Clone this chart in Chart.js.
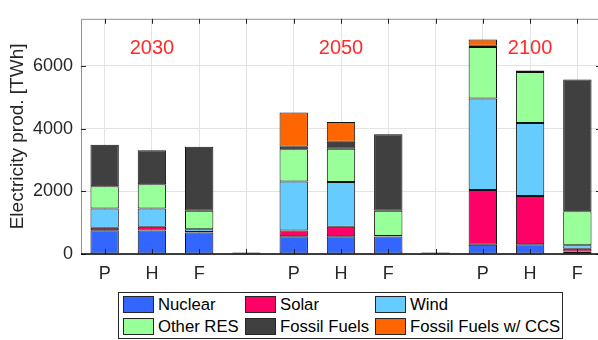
<!DOCTYPE html>
<html>
<head>
<meta charset="utf-8">
<script src="https://cdn.jsdelivr.net/npm/chart.js@4.4.1/dist/chart.umd.min.js"></script>
<style>
    body { margin: 0; overflow: hidden; background: #fff; font-family: "Liberation Sans", Arial, sans-serif; }
    #wrap { position: relative; width: 602px; height: 340px; }
    #legend { position: absolute; left: 118px; top: 292px; width: 443px; height: 45px; border: 1px solid #262626; background: #fff; }
    .item { position: absolute; height: 17px; font-size: 16.7px; line-height: 17px; color: #000; white-space: nowrap; }
    .swatch { display: inline-block; width: 29px; height: 15px; border: 1px solid #262626; vertical-align: top; margin-right: 4px; }
</style>
</head>
<body>
<div id="wrap">
    <canvas id="chart" width="602" height="340"></canvas>
    <div id="legend"></div>
</div>
<script>
// Категории: сценарии P/H/F по годам, пустые колонки - разделители
const categories = ['P', 'H', 'F', '', 'P', 'H', 'F', '', 'P', 'H', 'F'];
const yearLabels = ['2030', '2050', '2100'];
const yearCategory = [1, 5, 9];
const yTicks = [0, 2000, 4000, 6000];

// Производство электроэнергии, TWh
const nuclear    = [757, 750, 685, 0, 563, 563, 560, 0, 297, 307, 80];
const solar      = [83, 120, 20, 0, 184, 307, 5, 0, 1740, 1546, 90];
const wind       = [613, 583, 81, 0, 1566, 1423, 5, 0, 2918, 2323, 110];
const otherRes   = [707, 769, 596, 0, 1024, 1065, 812, 0, 1645, 1627, 1081];
const fossil     = [1320, 1084, 2036, 50, 83, 225, 2437, 50, 43, 51, 4207];
const fossilCcs  = [0, 0, 0, 0, 1093, 623, 6, 0, 194, 0, 0];

const seriesNames  = ['Nuclear', 'Solar', 'Wind', 'Other RES', 'Fossil Fuels', 'Fossil Fuels w/ CCS'];
const seriesColors = ['#3366ff', '#ff0066', '#66ccff', '#99ff99', '#404040', '#ff6600'];
const seriesData   = [nuclear, solar, wind, otherRes, fossil, fossilCcs];

const FONT = '"Liberation Sans", Arial, sans-serif';
const TEXT = '#262626';

// Рамка, внутренние засечки и подписи годов (как в MATLAB)
const matlabAxes = {
    id: 'matlabAxes',
    afterDatasetsDraw(chart) {
        const { ctx, chartArea: a, scales: { x, y } } = chart;
        ctx.save();

        ctx.strokeStyle = '#8f8f8f';
        ctx.lineWidth = 1;
        ctx.beginPath();
        ctx.moveTo(a.left + 0.5, a.bottom);
        ctx.lineTo(a.left + 0.5, a.top + 0.5);
        ctx.lineTo(a.right - 0.5, a.top + 0.5);
        ctx.lineTo(a.right - 0.5, a.bottom);
        ctx.stroke();

        ctx.strokeStyle = TEXT;
        ctx.beginPath();
        categories.forEach((c, i) => {
            const px = Math.round(x.getPixelForValue(i)) + 0.5;
            ctx.moveTo(px, a.bottom); ctx.lineTo(px, a.bottom - 5);
            ctx.moveTo(px, a.top); ctx.lineTo(px, a.top + 5);
        });
        yTicks.forEach(v => {
            const py = Math.round(y.getPixelForValue(v)) + 0.5;
            ctx.moveTo(a.left, py); ctx.lineTo(a.left + 5, py);
            ctx.moveTo(a.right, py); ctx.lineTo(a.right - 5, py);
        });
        ctx.stroke();

        // нулевая линия
        ctx.strokeStyle = '#000';
        ctx.lineWidth = 1.5;
        ctx.beginPath();
        const y0 = y.getPixelForValue(0);
        ctx.moveTo(a.left, y0);
        ctx.lineTo(a.right, y0);
        ctx.stroke();

        ctx.fillStyle = '#ff2b2b';
        ctx.font = '20px ' + FONT;
        ctx.textAlign = 'center';
        ctx.textBaseline = 'middle';
        yearLabels.forEach((t, i) => {
            ctx.fillText(t, x.getPixelForValue(yearCategory[i]), y.getPixelForValue(6550));
        });
        ctx.restore();
    }
};

const chart = new Chart(document.getElementById('chart'), {
    type: 'bar',
    data: {
        labels: categories,
        datasets: seriesData.map((d, i) => ({
            label: seriesNames[i],
            data: d,
            backgroundColor: seriesColors[i],
            borderColor: '#111',
            borderWidth: 1,
            borderSkipped: false,
            barPercentage: 0.6,
            categoryPercentage: 1
        }))
    },
    options: {
        responsive: false,
        animation: false,
        layout: { padding: { top: 9, right: 1, bottom: 58, left: 0 } },
        plugins: {
            legend: { display: false },
            tooltip: { enabled: false }
        },
        scales: {
            x: {
                stacked: true,
                grid: { offset: false, color: '#e3e3e3', drawTicks: false },
                border: { display: false },
                ticks: { color: TEXT, font: { size: 18, family: FONT }, padding: 9, autoSkip: false, maxRotation: 0 },
                afterFit(s) { s.height = 28; }
            },
            y: {
                stacked: true,
                min: 0,
                max: 7500,
                afterBuildTicks(s) { s.ticks = yTicks.map(v => ({ value: v })); },
                grid: { color: '#e3e3e3', drawTicks: false },
                border: { display: false },
                ticks: {
                    color: TEXT,
                    font: { size: 18, family: FONT },
                    padding: 8,
                    callback: value => String(value)
                },
                title: {
                    display: true,
                    text: 'Electricity prod. [TWh]',
                    color: TEXT,
                    font: { size: 19, family: FONT },
                    padding: { top: 6, bottom: 0 }
                },
                afterFit(s) { s.width = 81; }
            }
        }
    },
    plugins: [matlabAxes]
});

// Легенда в 3 колонки
const legend = document.getElementById('legend');
const colX = [4, 126, 256];
const rowY = [3, 25];
chart.data.datasets.forEach((ds, i) => {
    const item = document.createElement('div');
    item.className = 'item';
    item.style.left = colX[i % 3] + 'px';
    item.style.top = rowY[Math.floor(i / 3)] + 'px';
    item.innerHTML = '<span class="swatch" style="background:' + ds.backgroundColor + '"></span>' + ds.label;
    legend.appendChild(item);
});
</script>
</body>
</html>
